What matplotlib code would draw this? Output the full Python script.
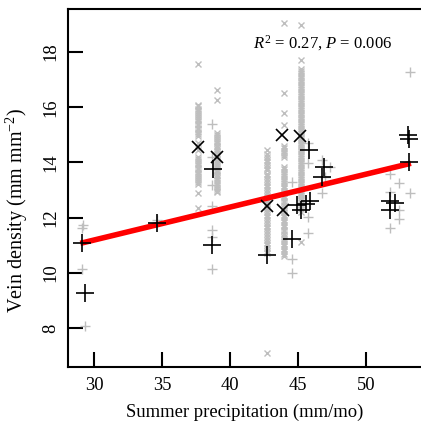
import matplotlib
matplotlib.use("Agg")
import matplotlib.pyplot as plt

plt.rcParams['font.family'] = ['Liberation Serif', 'DejaVu Serif']
plt.rcParams['mathtext.fontset'] = 'custom'
plt.rcParams['mathtext.rm'] = 'Liberation Serif'
plt.rcParams['mathtext.it'] = 'Liberation Serif:italic'

# ---- data ----
# grey 'x' individuals (dense columns)
gx_A_x = 37.65
gx_A_y = [17.57, 16.1, 16.03, 15.95, 15.86, 15.8, 15.71, 15.65, 15.57, 15.5, 15.41, 15.35,
          15.26, 15.2, 15.12, 15.04, 14.95, 14.7, 14.45, 14.2, 14.12, 14.04, 13.97, 13.9,
          13.81, 13.75, 13.66, 13.6, 13.52, 13.44, 13.37, 13.3, 13.22, 12.88, 12.36]
gx_B_x = 39.05
gx_B_y = [16.62, 16.26, 15.07, 15.0, 14.92, 14.84, 14.77, 14.7, 14.61, 14.55, 14.47, 14.4,
          14.31, 14.25, 14.17, 14.1, 14.02, 13.94, 13.87, 13.8, 13.72, 13.65, 13.56, 13.5,
          13.42, 13.35, 13.27, 13.2, 13.11, 13.05, 12.97, 12.92]
gx_C_x = 42.7
gx_C_y = [14.45, 14.3, 14.21, 14.1, 14.01, 13.9, 13.8, 13.71, 13.6, 13.5, 13.41, 13.3,
          13.2, 13.1, 13.01, 12.9, 12.8, 12.7, 12.61, 12.5, 12.4, 12.3, 12.2, 12.1,
          12.01, 11.9, 11.8, 11.7, 11.61, 11.5, 11.4, 11.3, 11.2, 11.08, 11.0, 10.9,
          10.8, 10.72, 7.09]
gx_D_x = 43.95
gx_D_y = [19.04, 16.5, 15.78, 15.36, 14.6, 14.51, 14.42, 14.35, 14.26, 14.2, 13.85, 13.76,
          13.67, 13.6, 13.5, 13.41, 13.32, 13.25, 13.15, 13.06, 12.97, 12.9, 12.8, 12.71,
          12.62, 12.55, 12.45, 12.36, 12.27, 12.2, 12.1, 12.01, 11.92, 11.85, 11.75, 11.66,
          11.57, 11.5, 11.4, 11.31, 11.22, 11.15, 11.05, 10.96, 10.87, 10.8, 10.7, 10.6]
gx_E_x = 45.2
gx_E_y = [18.98, 17.7, 17.4, 17.32, 17.23, 17.15, 17.06, 16.98, 16.9, 16.81, 16.72, 16.65,
          16.56, 16.47, 16.4, 16.31, 16.22, 16.15, 16.06, 15.97, 15.9, 15.81, 15.72, 15.65,
          15.56, 15.47, 15.4, 15.31, 15.22, 15.15, 15.06, 14.97, 14.9, 14.81, 14.72, 14.65,
          14.56, 14.47, 14.4, 14.31, 14.22, 14.15, 14.06, 13.97, 13.9, 13.81, 13.72, 13.65,
          13.56, 13.47, 13.4, 13.31, 13.22, 13.15, 13.06, 12.97, 12.9, 12.81, 12.72, 12.65,
          12.56, 12.47, 12.4, 12.3, 12.2, 11.13]

# grey '+' individuals
gp_x = [29.21, 29.1, 29.1, 29.34, 34.61,
        38.68, 38.68, 38.68, 38.68, 38.68, 38.68, 38.68,
        44.54, 45.76, 45.76, 46.74, 47.35, 46.98, 45.76, 44.54, 44.54, 45.76, 46.74,
        53.24, 51.76, 52.4, 53.24, 51.76, 52.44, 52.44, 51.76]
gp_y = [11.73, 11.61, 10.14, 8.08, 11.91,
        15.4, 14.2, 13.2, 12.42, 11.55, 11.3, 10.15,
        13.3, 14.69, 13.97, 14.09, 13.84, 13.48, 11.43, 10.52, 9.98, 12.03, 12.88,
        17.29, 13.6, 13.26, 12.88, 12.94, 12.28, 11.97, 11.62]

# black 'x' means
bx_x = [37.67, 39.07, 43.8, 45.15, 42.7, 43.92]
bx_y = [14.57, 14.21, 14.99, 14.96, 12.42, 12.26]

# black '+' means
bp_x = [29.1, 29.34, 34.61, 38.66, 38.73, 45.81, 46.93, 46.74, 44.95, 45.25, 45.55, 45.85,
        44.54, 42.7, 53.1, 53.15, 53.18, 51.76, 52.13, 51.76]
bp_y = [11.07, 9.28, 11.79, 11.0, 13.75, 14.45, 13.84, 13.48, 12.46, 12.28, 12.5, 12.6,
        11.21, 10.64, 15.0, 14.85, 14.03, 12.62, 12.52, 12.28]

# regression line end points
fit_x = [29.0, 53.3]
fit_y = [11.07, 13.97]

x_ticks = [30, 35, 40, 45, 50]
y_ticks = [8, 10, 12, 14, 16, 18]

# ---- figure ----
fig = plt.figure(figsize=(4.21, 4.25), dpi=100)
ax = fig.add_axes([68/421, 1 - 367/425, 1 - 68/421, (367 - 9)/425])

grey = '#BEBEBE'
for cx, cy in [(gx_A_x, gx_A_y), (gx_B_x, gx_B_y), (gx_C_x, gx_C_y),
               (gx_D_x, gx_D_y), (gx_E_x, gx_E_y)]:
    ax.plot([cx] * len(cy), cy, linestyle='none', marker='x', ms=5, mew=1.0,
            color=grey, zorder=2)
ax.plot(gp_x, gp_y, linestyle='none', marker='+', ms=6.5, mew=1.0, color=grey, zorder=2)

ax.plot(fit_x, fit_y, color='#FF0000', lw=4.0, solid_capstyle='butt', zorder=3)

ax.plot(bx_x, bx_y, linestyle='none', marker='x', ms=8.5, mew=1.2, color='black', zorder=4)
ax.plot(bp_x, bp_y, linestyle='none', marker='+', ms=12.5, mew=1.2, color='black', zorder=4)

ax.set_xlim(28.09, 54.04)
ax.set_ylim(6.59, 19.56)
ax.set_xticks(x_ticks)
ax.set_yticks(y_ticks)
ax.tick_params(direction='in', length=11, width=1.5, labelsize=13.3, pad=7)
ax.tick_params(axis='y', labelrotation=90, pad=6)
for lab in ax.get_yticklabels():
    lab.set_va('center')
for s in ['left', 'bottom', 'top']:
    ax.spines[s].set_linewidth(1.5)
ax.spines['right'].set_visible(False)

ax.set_xlabel('Summer precipitation (mm/mo)', fontsize=13.4, labelpad=7)
ax.set_ylabel('Vein density (mm mm$^{-2}$)', fontsize=14.5)
ax.yaxis.set_label_coords(-(68 - 30) / 353, (367 - 210) / 358)

ax.text(46.8, 18.33, '$R^2$ = 0.27, $P$ = 0.006', fontsize=12, ha='center', va='center')

fig.savefig('out.png', dpi=100)
